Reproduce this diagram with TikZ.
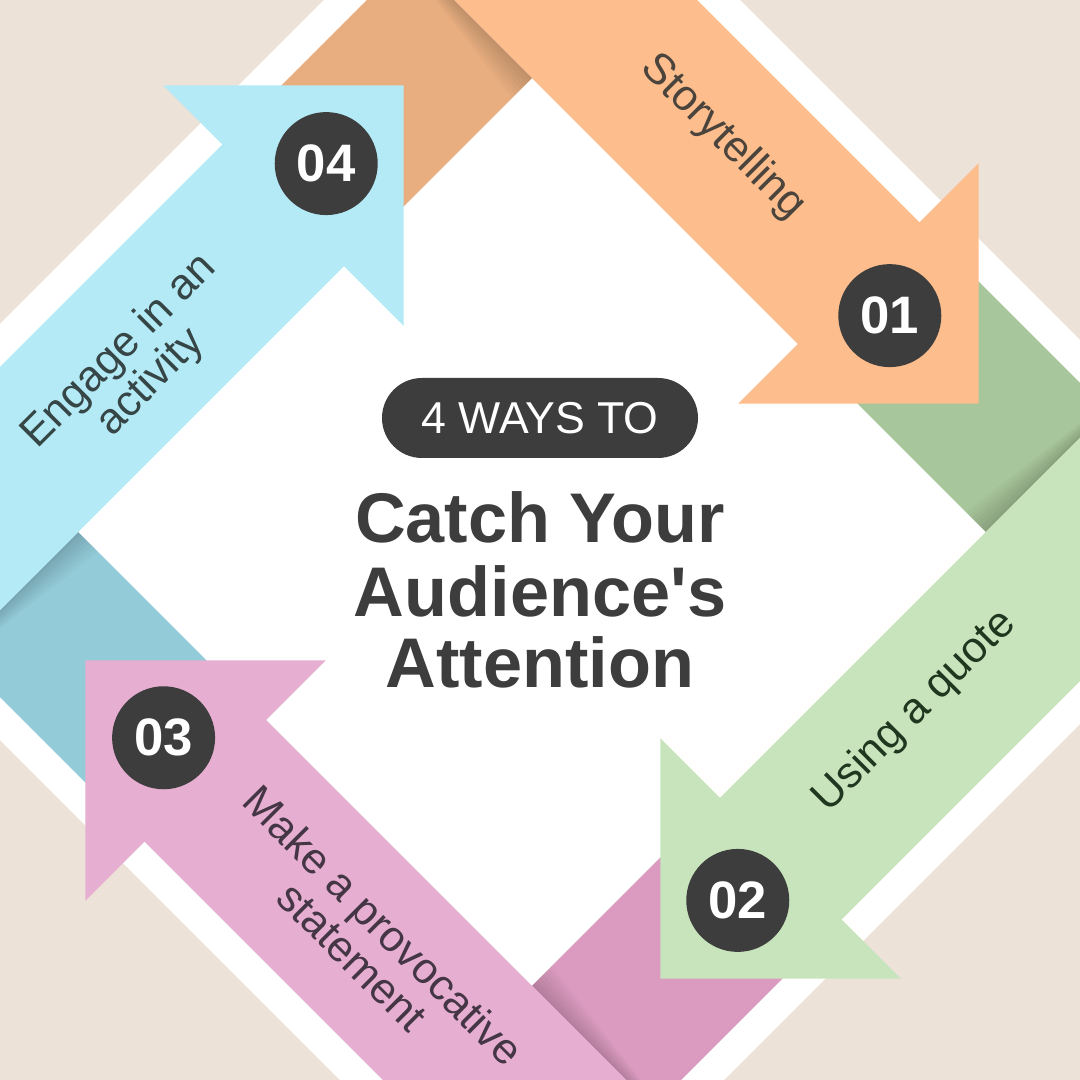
\documentclass[tikz,border=0pt]{standalone}
\usepackage{fontspec}
\setmainfont{Liberation Sans}
\usepackage{tikz}
\definecolor{paper}{HTML}{ECE2D8}
\definecolor{ink}{HTML}{3D3D3D}
\definecolor{peachL}{HTML}{FDBD8C}
\definecolor{peachD}{HTML}{E8AE80}
\definecolor{sageL}{HTML}{C8E4BC}
\definecolor{sageD}{HTML}{A7C69B}
\definecolor{roseL}{HTML}{E6AFD2}
\definecolor{roseD}{HTML}{DB9BC0}
\definecolor{skyL}{HTML}{B3EAF6}
\definecolor{skyD}{HTML}{93CBD8}

\begin{document}
\begin{tikzpicture}[
  numdot/.style={circle,fill=ink,minimum size=1.03cm,inner sep=0pt,text=white,
    font=\bfseries\fontsize{15}{15}\selectfont},
  tag/.style={align=center,inner sep=0pt,font=\fontsize{12.3}{12.5}\selectfont},
  headline/.style={anchor=base,inner sep=0pt,text=ink,font=\bfseries\fontsize{20}{20.5}\selectfont}
]
  \useasboundingbox (-5.32,-5.48) rectangle (5.48,5.32);
  \clip (-5.32,-5.48) rectangle (5.48,5.32);
  \fill[paper] (-5.32,-5.48) rectangle (5.48,5.32);
  \fill[white] (0,7.4)--(7.4,0)--(0,-7.4)--(-7.4,0)--cycle;

  \begin{scope}[rotate=-45]
    \fill[sageD] (0.55,3.21) rectangle (3.21,4.93);
    \foreach \w in {0.04,0.08,...,0.32}
      \fill[black,opacity=0.022] (3.21,3.21)--({3.21-\w},3.21)--({3.21-0.25*\w},4.93)--(3.21,4.93)--cycle;
    \fill[peachL] (-4.93,3.21)--(0.55,3.21)--(0.55,2.365)--(2.25,4.065)--(0.55,5.765)--(0.55,4.93)--(-4.93,4.93)--cycle;
    \node[numdot] (n01) at (1.0,4.06) {01};
    \node[tag,text=ink!90!brown,rotate=-45] (storytelling) at (-1.44,4.14) {Storytelling};
  \end{scope}

  \begin{scope}[rotate=-135]
    \fill[roseD] (0.55,3.21) rectangle (3.21,4.93);
    \foreach \w in {0.04,0.08,...,0.32}
      \fill[black,opacity=0.022] (3.21,3.21)--({3.21-\w},3.21)--({3.21-0.25*\w},4.93)--(3.21,4.93)--cycle;
    \fill[sageL] (-4.93,3.21)--(0.55,3.21)--(0.55,2.365)--(2.25,4.065)--(0.55,5.765)--(0.55,4.93)--(-4.93,4.93)--cycle;
    \node[numdot] (n02) at (1.15,4.06) {02};
    \node[tag,text=ink!85!green!60!black,rotate=45] (quote) at (-1.44,3.98) {Using a quote};
  \end{scope}

  \begin{scope}[rotate=135]
    \fill[skyD] (0.55,3.21) rectangle (3.21,4.93);
    \foreach \w in {0.04,0.08,...,0.32}
      \fill[black,opacity=0.022] (3.21,3.21)--({3.21-\w},3.21)--({3.21-0.25*\w},4.93)--(3.21,4.93)--cycle;
    \fill[roseL] (-4.93,3.21)--(0.55,3.21)--(0.55,2.365)--(2.25,4.065)--(0.55,5.765)--(0.55,4.93)--(-4.93,4.93)--cycle;
    \node[numdot] (n03) at (1.15,4.06) {03};
    \node[tag,text=ink!88!violet,rotate=-45] (provoke) at (-1.73,4.05) {Make a provocative\\statement};
  \end{scope}

  \begin{scope}[rotate=45]
    \fill[peachD] (0.55,3.21) rectangle (3.21,4.93);
    \foreach \w in {0.04,0.08,...,0.32}
      \fill[black,opacity=0.022] (3.21,3.21)--({3.21-\w},3.21)--({3.21-0.25*\w},4.93)--(3.21,4.93)--cycle;
    \fill[skyL] (-4.93,3.21)--(0.55,3.21)--(0.55,2.365)--(2.25,4.065)--(0.55,5.765)--(0.55,4.93)--(-4.93,4.93)--cycle;
    \node[numdot] (n04) at (1.15,4.06) {04};
    \node[tag,text=ink!88!teal,rotate=45] (activity) at (-1.64,3.97) {Engage in an\\activity};
  \end{scope}

  \node[fill=ink,text=white,rounded corners=0.4cm,minimum width=3.16cm,minimum height=0.8cm,
    inner sep=0pt,font=\fontsize{12.7}{12.7}\selectfont] (pill) at (0.08,1.14) {4 WAYS TO};
  \node[headline] (catch) at (0.08,-0.11) {Catch Your};
  \node[headline] (audience) at (0.08,-0.85) {Audience\textquotesingle s};
  \node[headline] (attention) at (0.08,-1.56) {Attention};
\end{tikzpicture}
\end{document}
